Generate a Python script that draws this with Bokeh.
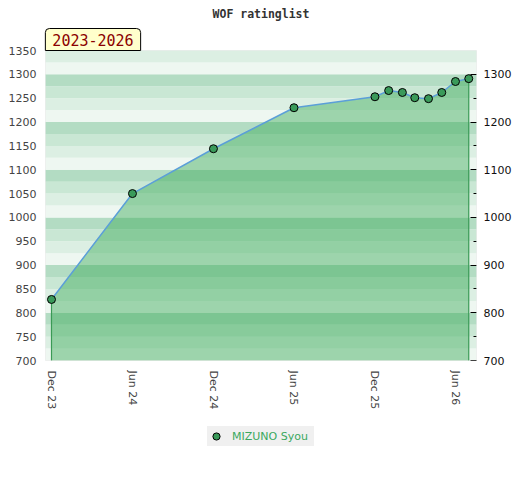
from datetime import datetime
from bokeh.plotting import figure
from bokeh.models import (Range1d, LinearAxis, FixedTicker, DatetimeTickFormatter,
                          BoxAnnotation, Label, Legend, LegendItem)
from bokeh.embed import file_html
from bokeh.resources import INLINE

# ---- data ----
title_text = "WOF ratinglist"
period_text = "2023-2026"
player = "MIZUNO Syou"
dates = ["2023-12-01", "2024-06-01", "2024-12-01", "2025-06-01", "2025-12-01",
         "2026-01-01", "2026-02-01", "2026-03-01", "2026-04-01", "2026-05-01",
         "2026-06-01", "2026-07-01"]
ratings = [828, 1050, 1144, 1230, 1253, 1266, 1262, 1251, 1249, 1262, 1285, 1291]
tick_dates = ["2023-12-01", "2024-06-01", "2024-12-01", "2025-06-01", "2025-12-01", "2026-06-01"]
left_ticks = [700, 750, 800, 850, 900, 950, 1000, 1050, 1100, 1150, 1200, 1250, 1300, 1350]
right_ticks = [700, 800, 900, 1000, 1100, 1200, 1300]
right_minor = [750, 850, 950, 1050, 1150, 1250]
y_min, y_max = 700, 1350
x_start, x_end = "2023-11-17T11:00", "2026-07-18T12:00"

# ---- layout (pixels) ----
W, H = 512, 468
FL, FR, FT, FB = 45, 476, 50, 360   # plot area in canvas pixels

def ms(s):
    return (datetime.fromisoformat(s) - datetime(1970, 1, 1)).total_seconds() * 1000

x = [datetime.fromisoformat(d) for d in dates]
tick_ms = [ms(d) for d in tick_dates]
xs, xe = ms(x_start), ms(x_end)
mpp = (xe - xs) / (FR - FL)
upp = (y_max - y_min) / (FB - FT)

p = figure(width=W, height=H, x_axis_type="datetime",
           x_range=Range1d(xs - FL * mpp, xe + (W - FR) * mpp),
           y_range=Range1d(y_min - (H - FB) * upp, y_max + FT * upp),
           output_backend="svg", toolbar_location=None,
           min_border=0, min_border_left=0, min_border_right=0, min_border_top=0, min_border_bottom=0)
p.background_fill_color = "white"
p.border_fill_color = "white"
p.outline_line_color = None
p.xgrid.visible = False
p.ygrid.visible = False

# background stripes (styling)
stripe_colors = ["#eef7f1", "#dcefe3", "#c9e7d4", "#b3dcc3"]
for lo in range(y_min, y_max, 25):
    p.add_layout(BoxAnnotation(left=xs, right=xe, bottom=lo, top=lo + 25,
                               fill_color=stripe_colors[(lo % 100) // 25],
                               fill_alpha=1, line_alpha=0, level="underlay"))

# area
p.varea(x=x, y1=y_min, y2=ratings, fill_color=(51, 168, 81), fill_alpha=0.43)
p.segment(x0=[x[0], x[-1]], y0=[y_min, y_min], x1=[x[0], x[-1]], y1=[ratings[0], ratings[-1]],
          line_color="#3a9a55", line_width=1.2)
p.line(x, ratings, line_color="#5b9fd8", line_width=1.5)
pts = p.scatter(x, ratings, size=8, fill_color="#3a9a5a", line_color="black", line_width=1)

# plot-area outline
p.add_layout(BoxAnnotation(left=xs, right=xe, bottom=y_min, top=y_max, fill_alpha=0,
                           line_color="#d8d8d8", line_width=1))

# left axis
yl = p.yaxis[0]
yl.fixed_location = xs
yl.ticker = FixedTicker(ticks=left_ticks, minor_ticks=[])
yl.major_tick_out = 0
yl.major_tick_in = 0
yl.minor_tick_out = 0
yl.minor_tick_in = 0
yl.axis_line_color = None
yl.major_label_standoff = 9
yl.major_label_text_font = "DejaVu Sans"
yl.major_label_text_font_size = "11px"
yl.major_label_text_color = "#444444"

# right axis
yr = LinearAxis(ticker=FixedTicker(ticks=right_ticks, minor_ticks=right_minor), fixed_location=xe)
yr.major_tick_in = 6
yr.major_tick_out = 0
yr.minor_tick_in = 3
yr.minor_tick_out = 0
yr.major_tick_line_color = "black"
yr.minor_tick_line_color = "black"
yr.axis_line_color = None
yr.major_label_standoff = 7
yr.major_label_text_font = "DejaVu Sans"
yr.major_label_text_font_size = "11px"
yr.major_label_text_color = "#111111"
p.add_layout(yr, "right")

# x axis
xa = p.xaxis[0]
xa.fixed_location = y_min
xa.ticker = FixedTicker(ticks=tick_ms, minor_ticks=[])
fmt = "%b %y"
xa.formatter = DatetimeTickFormatter(months=fmt, days=fmt, years=fmt, hours=fmt,
                                     minutes=fmt, seconds=fmt, milliseconds=fmt,
                                     microseconds=fmt, hourmin=fmt, minsec=fmt)
xa.major_label_orientation = "vertical"
xa.major_tick_out = 0
xa.major_tick_in = 0
xa.minor_tick_out = 0
xa.minor_tick_in = 0
xa.axis_line_color = None
xa.major_label_standoff = 10
xa.major_label_text_font = "DejaVu Sans"
xa.major_label_text_font_size = "11px"
xa.major_label_text_color = "#444444"

# title
p.add_layout(Label(x=260.5, y=H - 13, x_units="screen", y_units="screen", text=title_text,
                   text_font="DejaVu Sans Mono", text_font_style="bold", text_font_size="11.5px",
                   text_align="center", text_baseline="middle", text_color="#333333"))

# period box
p.add_layout(Label(x=92.5, y=H - 39, x_units="screen", y_units="screen", text=period_text,
                   text_font="DejaVu Sans Mono", text_font_size="15px", text_color="#8b0000",
                   text_align="center", text_baseline="middle",
                   background_fill_color="#ffffcc", border_line_color="black", border_line_width=1,
                   padding=(7, 5),
                   border_radius=dict(top_left=4, top_right=4, bottom_right=0, bottom_left=0)))

# legend
legend = Legend(items=[LegendItem(label=player, renderers=[pts])], location=(207, H - 446),
                background_fill_color="#f0f0f0", background_fill_alpha=1, border_line_color=None,
                label_text_color="#3aa85e", label_text_font="DejaVu Sans", label_text_font_size="11px",
                padding=0, glyph_width=18, glyph_height=20, label_standoff=7, margin=0,
                label_height=20, label_width=82)
p.add_layout(legend)

open("out.html", "w").write(file_html(p, INLINE))
